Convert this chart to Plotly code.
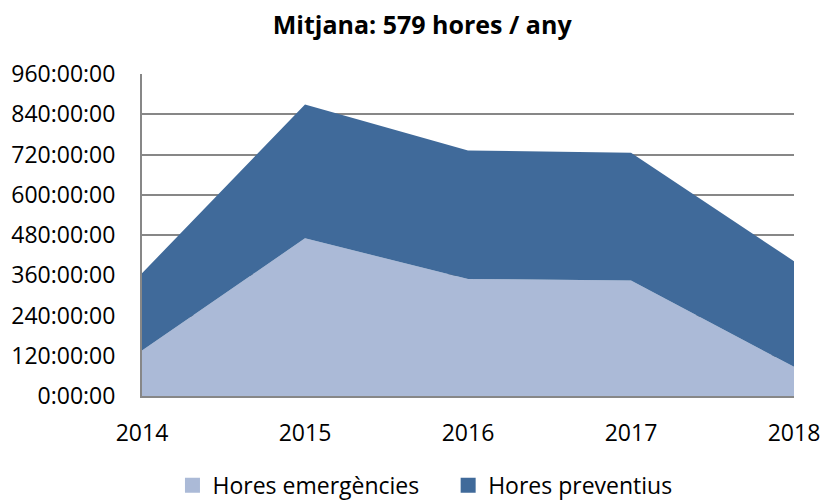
import plotly.graph_objects as go

years = ["2014", "2015", "2016", "2017", "2018"]
hores_emergencies = [136, 470, 349, 344, 87]
hores_preventius = [230, 399, 383, 381, 315]
tick_hours = [0, 120, 240, 360, 480, 600, 720, 840, 960]
tick_labels = ["0:00:00", "120:00:00", "240:00:00", "360:00:00", "480:00:00",
               "600:00:00", "720:00:00", "840:00:00", "960:00:00"]
title_text = "Mitjana: 579 hores / any"
series_names = ["Hores emergències", "Hores preventius"]
series_colors = ["#ABBAD7", "#406A9A"]

FONT = "Open Sans"
fig = go.Figure()
for vals, name, col in zip([hores_emergencies, hores_preventius], series_names, series_colors):
    fig.add_trace(go.Scatter(x=years, y=vals, name=name, stackgroup="one",
                             mode="none", fillcolor=col, showlegend=False))
legend_pad = ["\u00a0" * 4, ""]
for name, col, pad in zip(series_names, series_colors, legend_pad):
    fig.add_trace(go.Scatter(x=[None], y=[None], name=name + pad, mode="markers",
                             marker=dict(symbol="square", size=15, color=col),
                             showlegend=True))

fig.update_layout(
    width=823, height=500,
    margin=dict(l=142, r=29, t=74, b=103.5, autoexpand=False),
    paper_bgcolor="white", plot_bgcolor="white",
    font=dict(family=FONT, size=23, color="#000000"),
    title=dict(text="<b>" + title_text + "</b>", x=0.513, xanchor="center",
               y=0.95, yanchor="middle", font=dict(family=FONT, size=25)),
    legend=dict(orientation="h", x=0.434, xanchor="center", y=-0.2775, yanchor="middle",
                font=dict(size=23), itemwidth=30, traceorder="normal"),
    showlegend=True,
)
fig.update_xaxes(type="category", range=[0, 4], showgrid=False, showline=True,
                 linecolor="#878787", linewidth=2, ticks="", ticklabelstandoff=15,
                 tickfont=dict(size=23), automargin=False)
fig.update_yaxes(range=[0, 960], tickvals=tick_hours, ticktext=tick_labels,
                 showgrid=True, gridcolor="#878787", gridwidth=2, showline=True,
                 linecolor="#878787", linewidth=2, ticks="", ticklabelstandoff=20,
                 zeroline=False, tickfont=dict(size=23), automargin=False)

fig.write_html("out.html", config={"displayModeBar": False},
               post_script="document.body.style.margin='0';")
